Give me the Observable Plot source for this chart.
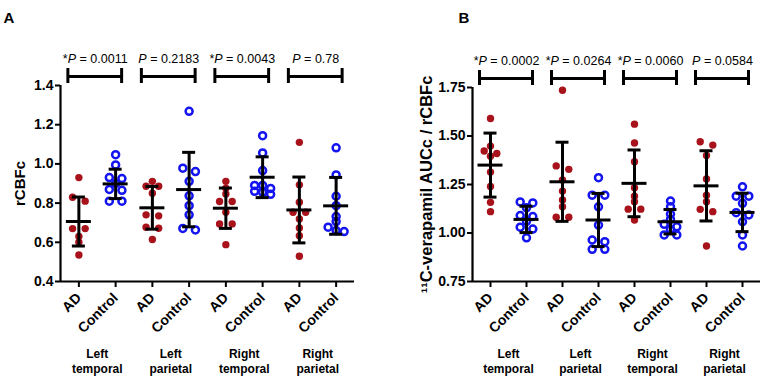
<!DOCTYPE html>
<html><head><meta charset="utf-8">
<script src="https://cdn.jsdelivr.net/npm/d3@7"></script>
<script src="https://cdn.jsdelivr.net/npm/@observablehq/plot@0.6"></script>
<style>
body{margin:0;background:#fff}
#wrap{display:flex;width:764px;height:380px}
#wrap svg{font-family:"Liberation Sans",Arial,sans-serif;overflow:visible}
</style>
</head><body><div id="wrap"></div>
<script>
// ---------- data ----------
const categories = ["AD","Control","AD","Control","AD","Control","AD","Control"];
const regions = ["Left\ntemporal","Left\nparietal","Right\ntemporal","Right\nparietal"];
const pLabelsA = ["*P = 0.0011","P = 0.2183","*P = 0.0043","P = 0.78"];
const pLabelsB = ["*P = 0.0002","*P = 0.0264","*P = 0.0060","P = 0.0584"];
const yTicksA = [0.4,0.6,0.8,1.0,1.2,1.4];
const yTicksB = [0.75,1.00,1.25,1.50,1.75];

// Panel A: rCBFc
const a_LT_AD   = [0.93,0.83,0.81,0.67,0.67,0.63,0.60,0.535];
const a_LT_Ctrl = [1.047,0.995,0.93,0.925,0.90,0.87,0.865,0.81,0.81];
const a_LP_AD   = [0.911,0.886,0.886,0.85,0.74,0.735,0.677,0.672,0.614];
const a_LP_Ctrl = [1.268,0.978,0.961,0.911,0.837,0.787,0.74,0.671,0.663];
const a_RT_AD   = [0.911,0.876,0.847,0.808,0.808,0.753,0.694,0.694,0.588];
const a_RT_Ctrl = [1.144,1.056,0.966,0.89,0.89,0.875,0.86,0.855,0.845];
const a_RP_AD   = [1.11,0.893,0.804,0.753,0.753,0.719,0.673,0.634,0.529];
const a_RP_Ctrl = [1.082,0.944,0.835,0.787,0.731,0.706,0.677,0.66,0.655];
const meansA = [0.706,0.898,0.776,0.869,0.774,0.932,0.765,0.786];
const sdsA   = [0.125,0.075,0.109,0.19,0.103,0.104,0.168,0.145];

// Panel B: 11C-verapamil AUCc / rCBFc
const b_LT_AD   = [1.59,1.448,1.423,1.41,1.396,1.314,1.24,1.158,1.11];
const b_LT_Ctrl = [1.16,1.155,1.13,1.09,1.085,1.06,1.03,1.02,0.975];
const b_LP_AD   = [1.736,1.346,1.328,1.273,1.216,1.17,1.135,1.081,1.081];
const b_LP_Ctrl = [1.285,1.195,1.195,1.135,1.041,0.964,0.955,0.916,0.916];
const b_RT_AD   = [1.561,1.464,1.367,1.233,1.19,1.161,1.123,1.123,1.067];
const b_RT_Ctrl = [1.165,1.135,1.098,1.07,1.045,1.032,1.019,0.99,0.99];
const b_RP_AD   = [1.47,1.453,1.40,1.278,1.195,1.161,1.122,1.11,0.933];
const b_RP_Ctrl = [1.238,1.19,1.19,1.153,1.105,1.093,1.058,0.99,0.933];
const meansB = [1.35,1.07,1.264,1.067,1.256,1.058,1.243,1.106];
const sdsB   = [0.165,0.068,0.204,0.137,0.172,0.063,0.181,0.099];

// ---------- drawing ----------
const RED = "#a8121a", BLUE = "#1414f0";
const W = 382, H = 380;

// GraphPad-like scatter spread: points of nearly equal height share a row, spread symmetrically
function spread(vals, yPix, rowPx) {
  const order = vals.map((v, i) => i).sort((a, b) => vals[b] - vals[a]);
  const rows = []; let cur = null;
  for (const i of order) {
    const py = yPix(vals[i]);
    if (cur && py - cur.start < rowPx) cur.items.push(i);
    else { cur = {start: py, items: [i]}; rows.push(cur); }
  }
  const off = new Array(vals.length).fill(0);
  for (const r of rows) {
    const n = r.items.length;
    const s = n === 2 ? 12.6 : 8;
    r.items.forEach((i, k) => off[i] = (k - (n - 1) / 2) * s);
  }
  return off;
}

function panel(cfg) {
  const {values, means, sds, pLabels, yDomain, yTicks, fmt, yLabel, letter, ml, mr, mt, mb, labelDx, letterDx, letterDy, labelSize} = cfg;
  const yPix = d3.scaleLinear(yDomain, [H - mb, mt]);
  const stepPx = (W - ml - mr) / categories.length;
  const dots = [];
  values.forEach((vals, i) => {
    const off = spread(vals, yPix, 4.5);
    vals.forEach((v, j) => dots.push({x: i + off[j] / stepPx, value: v, cond: categories[i]}));
  });
  const stats = means.map((m, i) => ({x: i, mean: m, lo: m - sds[i], hi: m + sds[i]}));
  const pairs = regions.map((r, k) => ({ad: 2 * k, ctrl: 2 * k + 1, mid: 2 * k + 0.5, region: r, p: pLabels[k]}));
  const top = yDomain[1], bottom = yDomain[0];
  return Plot.plot({
    width: W, height: H, marginLeft: ml, marginRight: mr, marginTop: mt, marginBottom: mb,
    x: {domain: [-0.5, categories.length - 0.5]},
    y: {domain: yDomain},
    style: {fontFamily: "Liberation Sans, Arial, sans-serif", fontSize: "12px", overflow: "visible", background: "white", color: "black"},
    marks: [
      Plot.axisY(yTicks, {tickFormat: fmt, tickSize: 5, tickPadding: 2, fontSize: 14, fontWeight: "bold", strokeWidth: 2, label: null}),
      Plot.axisX(d3.range(categories.length), {tickFormat: i => categories[i], tickRotate: -45, tickSize: 6, tickPadding: 8, fontSize: 14, fontWeight: "bold", strokeWidth: 2, label: null}),
      Plot.ruleX([-0.5], {strokeWidth: 2.2}),
      Plot.ruleY([bottom], {strokeWidth: 2.2}),
      Plot.dot(dots.filter(d => d.cond === "AD"), {x: "x", y: "value", r: 3.7, fill: RED}),
      Plot.dot(dots.filter(d => d.cond === "Control"), {x: "x", y: "value", r: 3.5, stroke: BLUE, strokeWidth: 2.5, fill: "none"}),
      // mean ± SD
      Plot.ruleX(stats, {x: "x", y1: "lo", y2: "hi", strokeWidth: 3}),
      Plot.ruleY(stats, {x1: "x", x2: "x", y: "mean", insetLeft: -12.5, insetRight: -12.5, strokeWidth: 3}),
      Plot.ruleY(stats, {x1: "x", x2: "x", y: "hi", insetLeft: -6.5, insetRight: -6.5, strokeWidth: 3}),
      Plot.ruleY(stats, {x1: "x", x2: "x", y: "lo", insetLeft: -6.5, insetRight: -6.5, strokeWidth: 3}),
      // significance brackets
      Plot.ruleY(pairs, {x1: "ad", x2: "ctrl", y: () => top, dy: -9, insetLeft: -11, insetRight: -6, strokeWidth: 3}),
      Plot.ruleX(pairs, {x: "ad", y1: () => top, y2: () => top, dx: -11, dy: -9, insetTop: -8, insetBottom: -7, strokeWidth: 3}),
      Plot.ruleX(pairs, {x: "ctrl", y1: () => top, y2: () => top, dx: 6, dy: -9, insetTop: -8, insetBottom: -7, strokeWidth: 3}),
      Plot.text(pairs, {x: "mid", y: () => top, text: "p", dy: -27, dx: -2, fontSize: 12.5, fill: "black"}),
      // region labels
      Plot.text(pairs, {x: "mid", y: () => bottom, text: "region", dy: 79, fontSize: 12, fontWeight: "bold", lineHeight: 1.25, fill: "black"}),
      // axis title
      Plot.text([yLabel], {frameAnchor: "left", textAnchor: "middle", dx: labelDx, rotate: -90, fontSize: labelSize, fontWeight: "bold", fill: "black"}),
      // panel letter
      Plot.text([letter], {frameAnchor: "top-left", dx: letterDx, dy: letterDy, fontSize: 15, fontWeight: "bold", textAnchor: "start", fill: "black"})
    ]
  });
}

const wrap = document.getElementById("wrap");
wrap.appendChild(panel({
  values: [a_LT_AD, a_LT_Ctrl, a_LP_AD, a_LP_Ctrl, a_RT_AD, a_RT_Ctrl, a_RP_AD, a_RP_Ctrl],
  means: meansA, sds: sdsA, pLabels: pLabelsA, yDomain: [0.4, 1.4], yTicks: yTicksA,
  fmt: d => d.toFixed(1), yLabel: "rCBFc", letter: "A",
  ml: 60, mr: 28, mt: 85, mb: 99, labelDx: -40, letterDx: -57, letterDy: -73, labelSize: 15
}));
wrap.appendChild(panel({
  values: [b_LT_AD, b_LT_Ctrl, b_LP_AD, b_LP_Ctrl, b_RT_AD, b_RT_Ctrl, b_RP_AD, b_RP_Ctrl],
  means: meansB, sds: sdsB, pLabels: pLabelsB, yDomain: [0.75, 1.75], yTicks: yTicksB,
  fmt: d => d.toFixed(2), yLabel: "\u00b9\u00b9C-verapamil AUCc / rCBFc", letter: "B",
  ml: 90, mr: 4, mt: 87, mb: 99, labelDx: -46, letterDx: -14, letterDy: -75, labelSize: 16.5
}));

// italic "P" in the P-value labels
d3.selectAll("#wrap text").each(function () {
  const t = this.textContent;
  const m = /^(\*?)P( = .*)$/.exec(t);
  if (!m || this.querySelector("tspan")) return;
  const el = d3.select(this);
  el.text(null).style("white-space", "pre");
  if (m[1]) el.append("tspan").text(m[1]);
  el.append("tspan").attr("font-style", "italic").text("P");
  el.append("tspan").text(m[2]);
});
</script>
</body></html>
